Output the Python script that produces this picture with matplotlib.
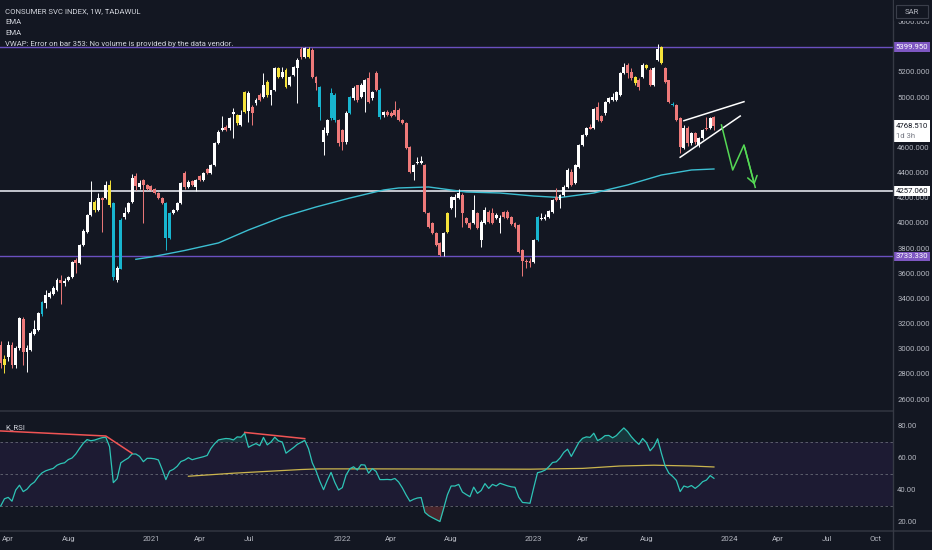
import numpy as np
import matplotlib
matplotlib.use("Agg")
import matplotlib.pyplot as plt
from matplotlib.lines import Line2D
from matplotlib.patches import Rectangle
from matplotlib.transforms import blended_transform_factory

plt.rcParams['font.family'] = ['Roboto', 'DejaVu Sans']

# weekly candles, CONSUMER SVC INDEX
opens = [3030, 2870, 2935, 3030, 2870, 3006, 3237, 2975, 2990, 3117,
         3150, 3276, 3364, 3411, 3435, 3467, 3546, 3523, 3546, 3570,
         3705, 3682, 3825, 3928, 4063, 4170, 4103, 4200, 4200, 4300,
         4159, 3546, 3634, 4047, 4087, 4167, 4373, 4286, 4341, 4300,
         4290, 4270, 4238, 4200, 4159, 3880, 4079, 4103, 4159, 4397,
         4286, 4335, 4286, 4370, 4341, 4429, 4397, 4460, 4636, 4740,
         4763, 4755, 4870, 4858, 4779, 4882, 4890, 4922, 4953, 5017,
         5001, 5017, 5017, 5057, 5232, 5160, 5216, 5097, 5176, 5232,
         5385, 5319, 5319, 5375, 5160, 5081, 4644, 4715, 4834, 5017,
         4818, 4739, 4644, 4874, 4993, 5097, 5001, 5041, 5152, 4993,
         5192, 5057, 4858, 4882, 4874, 4898, 4898, 4818, 4795, 4604,
         4405, 4476, 4476, 4460, 4079, 4000, 3920, 3841, 3769, 3928,
         4119, 4182, 4198, 4222, 4040, 4000, 4000, 4079, 3865, 4000,
         4087, 4079, 4040, 4000, 4087, 4087, 4047, 4000, 3984, 3785,
         3700, 3700, 3690, 3865, 4030, 4030, 4047, 4087, 4206, 4182,
         4222, 4286, 4405, 4318, 4445, 4620, 4699, 4765, 4755, 4922,
         4850, 4874, 4961, 4977, 4977, 5017, 5192, 5256, 5200, 5160,
         5136, 5160, 5232, 5216, 5097, 5295, 5399, 5232, 5136, 4938,
         4938, 4834, 4596, 4755, 4636, 4715, 4620, 4675, 4755, 4755,
         4842]
highs = [3060, 2950, 3060, 3050, 3020, 3250, 3250, 3030, 3140, 3225,
         3290, 3380, 3470, 3460, 3495, 3560, 3586, 3560, 3580, 3700,
         3720, 3830, 3950, 4075, 4330, 4180, 4240, 4210, 4330, 4340,
         4170, 3660, 4040, 4130, 4170, 4390, 4400, 4340, 4350, 4310,
         4300, 4280, 4245, 4210, 4165, 4090, 4110, 4165, 4325, 4410,
         4340, 4345, 4350, 4380, 4405, 4440, 4470, 4645, 4735, 4850,
         4775, 4845, 4914, 4870, 4900, 5050, 5045, 4940, 4990, 5030,
         5190, 5140, 5060, 5240, 5240, 5240, 5230, 5170, 5250, 5310,
         5400, 5395, 5398, 5390, 5170, 5090, 4760, 4830, 5073, 5030,
         4830, 4750, 4890, 5010, 5090, 5100, 5110, 5145, 5200, 5050,
         5210, 5070, 4890, 4900, 4890, 4970, 4910, 4825, 4800, 4610,
         4470, 4524, 4530, 4470, 4085, 4010, 3925, 3845, 3930, 4085,
         4215, 4230, 4270, 4240, 4050, 4010, 4222, 4090, 4020, 4130,
         4100, 4120, 4080, 4060, 4095, 4100, 4055, 4010, 3990, 3790,
         3710, 3720, 3875, 4055, 4080, 4070, 4100, 4190, 4278, 4230,
         4300, 4440, 4430, 4470, 4625, 4705, 4760, 4790, 4915, 4960,
         4860, 4970, 5000, 5030, 5050, 5200, 5274, 5270, 5230, 5170,
         5150, 5270, 5260, 5230, 5240, 5425, 5410, 5240, 5140, 4960,
         4945, 4840, 4780, 4770, 4720, 4725, 4680, 4745, 4840, 4845,
         4850]
lows = [2850, 2810, 2900, 2850, 2850, 2990, 2870, 2815, 2980, 3110,
        3140, 3260, 3320, 3400, 3425, 3460, 3356, 3500, 3540, 3560,
        3600, 3670, 3815, 3920, 4055, 4090, 4095, 3930, 4190, 4130,
        3550, 3530, 3630, 4030, 4080, 4160, 4260, 4270, 4000, 4260,
        4250, 4230, 4190, 4150, 3785, 3870, 4070, 4095, 4150, 4270,
        4275, 4290, 4250, 4335, 4335, 4390, 4390, 4455, 4630, 4730,
        4730, 4740, 4675, 4780, 4770, 4875, 4800, 4780, 4940, 4970,
        4990, 5000, 4940, 5050, 5150, 5150, 5070, 5090, 5170, 4950,
        5300, 5310, 5310, 5150, 5060, 4818, 4540, 4700, 4820, 4800,
        4610, 4580, 4630, 4865, 4980, 4960, 4990, 4880, 4950, 4980,
        5050, 4830, 4840, 4850, 4840, 4850, 4810, 4790, 4590, 4395,
        4340, 4470, 4470, 4080, 3960, 3910, 3815, 3735, 3740, 3920,
        4110, 4047, 4190, 3970, 3990, 3950, 3990, 3950, 3809, 3990,
        4000, 3990, 4030, 3920, 4040, 4030, 3985, 3960, 3760, 3580,
        3640, 3650, 3680, 3860, 4020, 4020, 4040, 4080, 4175, 4119,
        4215, 4280, 4295, 4310, 4440, 4615, 4690, 4745, 4750, 4810,
        4800, 4860, 4950, 4970, 4970, 5010, 5185, 5150, 5140, 5100,
        5060, 5150, 5220, 5090, 5090, 5290, 5260, 5110, 4950, 4930,
        4810, 4556, 4590, 4610, 4620, 4630, 4600, 4670, 4740, 4750,
        4740]
closes = [2887, 2920, 3030, 2870, 3006, 3245, 2975, 3006, 3125, 3157,
          3284, 3370, 3427, 3443, 3483, 3546, 3523, 3540, 3570, 3690,
          3682, 3825, 3938, 4063, 4170, 4105, 4200, 4185, 4300, 4143,
          3570, 3642, 4024, 4079, 4159, 4357, 4290, 4320, 4300, 4270,
          4262, 4238, 4200, 4159, 3880, 4079, 4103, 4159, 4318, 4286,
          4325, 4300, 4341, 4341, 4397, 4397, 4460, 4636, 4723, 4755,
          4739, 4834, 4882, 4795, 4858, 5041, 5033, 4874, 4977, 4977,
          5097, 5121, 5057, 5232, 5160, 5200, 5081, 5160, 5240, 5295,
          5319, 5390, 5385, 5160, 5113, 4922, 4739, 4818, 5033, 4818,
          4636, 4644, 4874, 5001, 5073, 4977, 5097, 5136, 4961, 5041,
          5057, 4842, 4882, 4858, 4850, 4858, 4818, 4795, 4596, 4405,
          4460, 4484, 4492, 4087, 3968, 3920, 3825, 3745, 3920, 4079,
          4206, 4206, 4238, 4079, 4000, 3960, 4103, 3960, 4008, 4103,
          4008, 4000, 4063, 4040, 4047, 4040, 3992, 3968, 3769, 3700,
          3690, 3680, 3865, 4047, 4040, 4047, 4095, 4182, 4182, 4222,
          4286, 4421, 4302, 4460, 4620, 4699, 4755, 4750, 4906, 4818,
          4810, 4961, 4993, 5001, 5041, 5192, 5240, 5192, 5152, 5113,
          5081, 5256, 5256, 5097, 5232, 5385, 5271, 5121, 4961, 4946,
          4818, 4604, 4755, 4636, 4715, 4640, 4675, 4739, 4747, 4834,
          4768]
yellow_bars = [1, 25, 29, 63, 65, 71, 74, 76, 82, 119, 169, 172, 176]
cyan_bars = [11, 30, 32, 44, 45, 85, 88, 89, 93, 101, 143, 179]

ema_bars = [36, 40, 49, 58, 66, 75, 84, 93, 102, 106, 114, 124, 133, 142,
            149, 158, 167, 176, 184, 190]
ema_vals = [3711, 3729, 3781, 3841, 3944, 4047, 4127, 4198, 4262, 4278,
            4286, 4246, 4238, 4214, 4202, 4238, 4302, 4381, 4421, 4429]

rsi = [30, 34.5, 35.4, 33, 40, 43, 39, 40.5, 43.3, 45,
       48.3, 50.7, 52, 52.8, 53.5, 55.5, 56.5, 57, 59, 60,
       62.5, 66, 69.2, 71.5, 70.8, 71.2, 72, 72.7, 73, 67,
       44.6, 47, 57, 58.6, 60, 62.5, 62.5, 61, 57.7, 59.8,
       59.8, 59.5, 58.8, 53, 46.5, 51.8, 52.9, 54.8, 57.8, 58.7,
       60.2, 58.9, 59.6, 60.2, 60.8, 61.6, 66, 69, 71.3, 71.8,
       72.2, 72, 71.3, 73.2, 73, 75.5, 66.7, 68, 69, 67.7,
       72.9, 68.2, 70, 73, 70.7, 70, 63, 64.8, 66.5, 68.5,
       69.8, 71, 65.8, 57, 52, 45.5, 40.2, 46, 51, 44.8,
       40, 41.5, 49.3, 53.3, 54.5, 52.5, 55.8, 55.6, 50.5, 53.4,
       51.6, 46.5, 46.5, 46.6, 46.4, 47.2, 45, 41.3, 36.9, 33,
       34.2, 35, 35.3, 26, 24, 22.7, 21.5, 20.3, 28.5, 37,
       42.5, 42.5, 43.5, 38.7, 37.2, 35.8, 41.8, 37.9, 39.7, 44,
       41, 43.5, 42.5, 44.2, 43.4, 42.6, 42, 41.7, 35.5, 32.2,
       32, 31.7, 41.5, 50.8, 51.4, 52.4, 54.5, 57.2, 57.6, 60,
       63.5, 65.5, 61, 65.3, 69.7, 72.3, 73.2, 72.9, 75.5, 70.9,
       72.1, 74, 74.1, 72.6, 74, 76.5, 78.8, 76.5, 73.3, 70.7,
       68.5, 72.2, 69.7, 64.5, 67.2, 72, 63, 55, 50.5, 48.5,
       46, 39, 42.5, 41.7, 42.8, 41, 42.8, 45.2, 46.2, 49,
       47.3]
rsi_ma_bars = [50, 62, 80, 85, 100, 117, 141, 155, 165, 174, 184, 190]
rsi_ma_vals = [48.6, 50.5, 52.8, 53.2, 53.2, 53.1, 53.0, 53.5, 55.0, 55.5,
               55.0, 54.4]
div1_bars, div1_vals = [0, 28, 35], [76.9, 73.75, 62.9]
div2_bars, div2_vals = [65, 81], [76.0, 72.1]

level_top = 5399.95
level_mid = 4257.06
level_low = 3733.33
last_price = 4768.51
countdown = '1d 3h'

wedge_up_bars, wedge_up_vals = [182, 198], [4813, 4964]
wedge_lo_bars, wedge_lo_vals = [181, 197], [4522, 4850]
arrow_bars = [192, 195, 198, 201]
arrow_vals = [4779, 4421, 4620, 4283]

price_ticks = [2600, 2800, 3000, 3200, 3400, 3600, 3800, 4000, 4200, 4400,
               4600, 4800, 5000, 5200, 5400, 5600]
rsi_ticks = [20, 40, 60, 80]
time_bars = [2, 18, 40, 53, 66, 91, 104, 120, 142, 155, 172, 194, 207, 220, 233]
time_labels = ['Apr', 'Aug', '2021', 'Apr', 'Jul', '2022', 'Apr', 'Aug',
               '2023', 'Apr', 'Aug', '2024', 'Apr', 'Jul', 'Oct']

BG = '#131722'
TXT = '#b2b5be'
W, H = 932, 550
FS = 5.6

fig = plt.figure(figsize=(W / 100, H / 100), dpi=100, facecolor=BG)
ax = fig.add_axes([0, 140 / H, 893 / W, 410 / H], facecolor=BG)
axr = fig.add_axes([0, 20 / H, 893 / W, 118 / H], facecolor=BG, sharex=ax)

o = np.array(opens, float)
c = np.array(closes, float)
x = np.arange(len(c))
cols = []
for i in range(len(c)):
    if i in yellow_bars:
        cols.append('#f5e23a')
    elif i in cyan_bars:
        cols.append('#18b5cf')
    elif c[i] >= o[i]:
        cols.append('#ffffff')
    else:
        cols.append('#ee7a7a')

ax.axhline(level_top, color='#6a50c0', lw=1, zorder=1)
ax.axhline(level_low, color='#6a50c0', lw=1, zorder=1)
ax.axhline(level_mid, color='#d1d4dc', lw=1.3, zorder=1)
ax.plot(ema_bars, ema_vals, color='#3cbfd2', lw=1, zorder=2)
ax.vlines(x, lows, highs, colors=cols, lw=0.7, zorder=3)
ax.bar(x, np.maximum(np.abs(c - o), 6), bottom=np.minimum(o, c), width=0.78,
       color=cols, lw=0, zorder=4)

ax.plot(wedge_up_bars, wedge_up_vals, color='white', lw=1.1, zorder=5)
ax.plot(wedge_lo_bars, wedge_lo_vals, color='white', lw=1.1, zorder=5)
green = '#55d955'
ax.plot(arrow_bars, arrow_vals, color=green, lw=1.1, zorder=5)
ax.annotate('', xy=(arrow_bars[-1], arrow_vals[-1]),
            xytext=(arrow_bars[-2], arrow_vals[-2]),
            arrowprops=dict(arrowstyle='->,head_length=0.5,head_width=0.35',
                            color=green, lw=1.1), zorder=5)

ax.set_xlim(-0.19, 237.7)
ax.set_ylim(2512.9, 5772.4)
ax.yaxis.tick_right()
ax.set_yticks(price_ticks)
ax.set_yticklabels([f'{v:.3f}' for v in price_ticks])
ax.tick_params(axis='y', length=0, pad=3, labelsize=FS, labelcolor=TXT)
ax.tick_params(axis='x', bottom=False, labelbottom=False)
for sp in ax.spines.values():
    sp.set_visible(False)

# price tags on the scale
tag = dict(xycoords=('figure fraction', 'data'), ha='left', va='center',
           fontsize=FS, annotation_clip=False, zorder=10)
ax.annotate(f'{level_top:.3f}', xy=(895.5 / W, level_top), color='white',
            bbox=dict(boxstyle='square,pad=0.25', fc='#7e57c2', ec='none'), **tag)
ax.annotate(f'{level_low:.3f}', xy=(895.5 / W, level_low), color='white',
            bbox=dict(boxstyle='square,pad=0.25', fc='#7e57c2', ec='none'), **tag)
ax.annotate(f'{level_mid:.3f}', xy=(895.5 / W, level_mid), color='#131722',
            bbox=dict(boxstyle='square,pad=0.25', fc='white', ec='none'), **tag)

# last price tag with countdown (white box of two rows)
per_px = (5772.4 - 2512.9) / 410
trans = blended_transform_factory(fig.transFigure, ax.transData)
ax.add_patch(Rectangle((893.5 / W, last_price - 16 * per_px), 36.5 / W,
                       22 * per_px, transform=trans, fc='white', ec='none',
                       clip_on=False, zorder=9))
ax.annotate(f'{last_price:.3f}', xy=(895.5 / W, last_price), color='#131722',
            **tag)
ax.annotate(countdown, xy=(895.5 / W, last_price - 10 * per_px),
            color='#787b86', **tag)

# RSI pane
axr.axhspan(30, 70, color='#1d1b33', lw=0, zorder=0)
for lv in (70, 50, 30):
    axr.axhline(lv, color='#787b86', lw=0.6, ls=(0, (3, 3)), alpha=0.8, zorder=1)
r = np.array(rsi)
axr.fill_between(x, r, 70, where=r > 70, interpolate=True, color='#26a69a',
                 alpha=0.22, lw=0, zorder=1)
axr.fill_between(x, r, 30, where=r < 30, interpolate=True, color='#ef5350',
                 alpha=0.25, lw=0, zorder=1)
axr.plot(rsi_ma_bars, rsi_ma_vals, color='#cbb54e', lw=0.9, zorder=2)
axr.plot(x, r, color='#2ec4b6', lw=0.9, zorder=3)
axr.plot(div1_bars, div1_vals, color='#f05454', lw=1.1, zorder=4)
axr.plot(div2_bars, div2_vals, color='#f05454', lw=1.1, zorder=4)
axr.set_ylim(15, 88.75)
axr.yaxis.tick_right()
axr.set_yticks(rsi_ticks)
axr.set_yticklabels([f'{v:.2f}' for v in rsi_ticks])
axr.tick_params(axis='y', length=0, pad=3, labelsize=FS, labelcolor=TXT)
axr.set_xticks(time_bars)
axr.set_xticklabels(time_labels)
axr.tick_params(axis='x', length=0, pad=4, labelsize=FS, labelcolor=TXT)
for sp in axr.spines.values():
    sp.set_visible(False)
axr.text(5 / 893, 1 - 15 / 118, 'K_RSI', transform=axr.transAxes, ha='left',
         va='center', fontsize=FS, color='#d1d4dc')

# pane separators
fig.add_artist(Line2D([0, 893 / W], [1 - 411 / H] * 2, color='#2a2e39', lw=1.5))
fig.add_artist(Line2D([0, 1], [1 - 531 / H] * 2, color='#2a2e39', lw=1.5))
fig.add_artist(Line2D([893 / W] * 2, [0, 1], color='#363a45', lw=1))

# currency box at the top of the scale
fig.add_artist(Rectangle((893.5 / W, 1 - 21 / H), 38.5 / W, 21 / H,
                         transform=fig.transFigure, fc=BG, ec='none', zorder=5))
fig.add_artist(Rectangle((896 / W, 1 - 18 / H), 32 / W, 13 / H,
                         transform=fig.transFigure, fc=BG, ec='#3a3e4a',
                         lw=0.8, zorder=6))
fig.text(912 / W, 1 - 11.5 / H, 'SAR', ha='center', va='center', fontsize=FS,
         color=TXT, zorder=7)

# legend lines top-left
legend_lines = ['CONSUMER SVC INDEX, 1W, TADAWUL', 'EMA', 'EMA',
                'VWAP: Error on bar 353: No volume is provided by the data vendor.']
for k, t in enumerate(legend_lines):
    fig.text(5 / W, 1 - (11 + 11.1 * k) / H, t, ha='left', va='center',
             fontsize=FS, color='#d1d4dc')

fig.savefig('out.png', dpi=100, facecolor=BG)
